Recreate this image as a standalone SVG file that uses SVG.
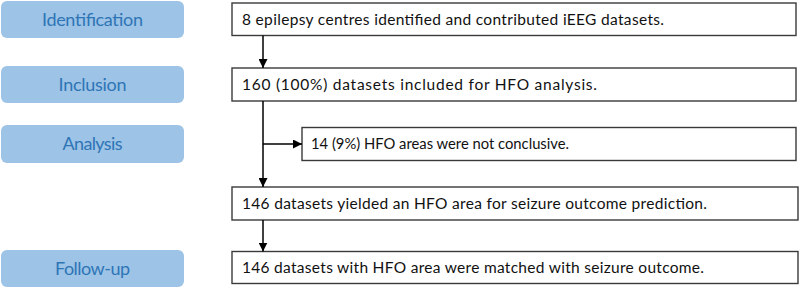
<svg xmlns="http://www.w3.org/2000/svg" width="800" height="288" viewBox="0 0 800 288">
<defs>
<style>
.stage{fill:#9dc3e6;stroke:none}
.stxt{font-family:Lato,"Liberation Sans",sans-serif;font-size:18px;fill:#2e75b6;text-anchor:middle}
.box{fill:#fff;stroke:#3a3a3a;stroke-width:1.4}
.btxt{font-family:Lato,"Liberation Sans",sans-serif;font-size:15.5px;fill:#111}
.con{stroke:#000;stroke-width:1.5;fill:none}
</style>
<marker id="ah" viewBox="0 0 10 10" refX="10" refY="5" markerWidth="9" markerHeight="9" markerUnits="userSpaceOnUse" orient="auto">
<path d="M0,0 L10,5 L0,10 Z" fill="#000"/>
</marker>
</defs>
<rect width="800" height="288" fill="#fff"/>
<g id="stage-identification"><rect class="stage" x="1" y="1" width="183" height="37" rx="6"/><text class="stxt" x="92.5" y="25.5" textLength="101">Identification</text></g>
<g id="stage-inclusion"><rect class="stage" x="1" y="66" width="183" height="37" rx="6"/><text class="stxt" x="92.5" y="90.5" textLength="68">Inclusion</text></g>
<g id="stage-analysis"><rect class="stage" x="1" y="125" width="183" height="38" rx="6"/><text class="stxt" x="92.5" y="150" textLength="60">Analysis</text></g>
<g id="stage-followup"><rect class="stage" x="1" y="250" width="183" height="37" rx="6"/><text class="stxt" x="92.5" y="274.5" textLength="75">Follow-up</text></g>
<g id="box-identified"><rect class="box" x="232" y="3" width="564" height="32.5"/><text class="btxt" x="242" y="24.5" textLength="422">8 epilepsy centres identified and contributed iEEG datasets.</text></g>
<g id="box-included"><rect class="box" x="232" y="68" width="564" height="33"/><text class="btxt" x="242" y="89.5" textLength="355">160 (100%) datasets included for HFO analysis.</text></g>
<g id="box-notconclusive"><rect class="box" x="302" y="127.5" width="494" height="33"/><text class="btxt" x="311" y="149" textLength="258" lengthAdjust="spacingAndGlyphs">14 (9%) HFO areas were not conclusive.</text></g>
<g id="box-yielded"><rect class="box" x="232" y="187" width="566" height="33"/><text class="btxt" x="242" y="208.5" textLength="465">146 datasets yielded an HFO area for seizure outcome prediction.</text></g>
<g id="box-matched"><rect class="box" x="232" y="251.5" width="566" height="32"/><text class="btxt" x="242" y="272.5" textLength="462">146 datasets with HFO area were matched with seizure outcome.</text></g>
<g id="connectors">
<line class="con" x1="263" y1="35.5" x2="263" y2="68" marker-end="url(#ah)"/>
<line class="con" x1="263" y1="101" x2="263" y2="187" marker-end="url(#ah)"/>
<line class="con" x1="263" y1="144" x2="302" y2="144" marker-end="url(#ah)"/>
<line class="con" x1="263" y1="220" x2="263" y2="251.5" marker-end="url(#ah)"/>
</g>
</svg>
